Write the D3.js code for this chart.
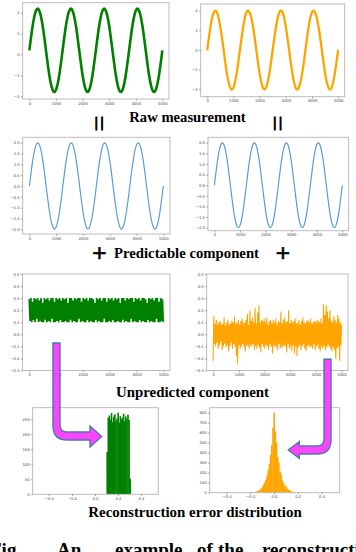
<!DOCTYPE html>
<html><head><meta charset="utf-8">
<script src="https://cdn.jsdelivr.net/npm/d3@7"></script>
<style>html,body{margin:0;padding:0;background:#fff;}svg{display:block}</style>
</head><body><svg id="c" width="356" height="552"></svg>
<script>
// ---------- data ----------
const sampleTimes = [0,125,250,375,500,625,750,875,1000,1125,1250,1375,1500,1625,1750,1875,2000,2125,2250,2375,2500,2625,2750,2875,3000,3125,3250,3375,3500,3625,3750,3875,4000,4125,4250,4375,4500,4625,4750,4875,5000];
const rawGreen = [0.2,1.38,2.1,2.1,1.38,0.2,-0.98,-1.7,-1.7,-0.98,0.2,1.38,2.1,2.1,1.38,0.2,-0.98,-1.7,-1.7,-0.98,0.2,1.38,2.1,2.1,1.38,0.2,-0.98,-1.7,-1.7,-0.98,0.2,1.38,2.1,2.1,1.38,0.2,-0.98,-1.7,-1.7,-0.98,0.2];
const rawOrange = [-0.02,1.2,1.92,1.9,1.17,0.01,-1.19,-1.91,-1.92,-1.17,0.02,1.19,1.93,1.89,1.18,-0.01,-1.2,-1.92,-1.9,-1.18,0.01,1.18,1.91,1.92,1.19,0.0,-1.17,-1.93,-1.91,-1.19,-0.01,1.2,1.92,1.9,1.18,0.02,-1.18,-1.9,-1.93,-1.17,0.0];
const predicted = [0,1.18,1.9,1.9,1.18,0,-1.18,-1.9,-1.9,-1.18,0,1.18,1.9,1.9,1.18,0,-1.18,-1.9,-1.9,-1.18,0,1.18,1.9,1.9,1.18,0,-1.18,-1.9,-1.9,-1.18,0,1.18,1.9,1.9,1.18,0,-1.18,-1.9,-1.9,-1.18,0];
const noiseGreen = [0.29,0.11,0.3,0.1,0.27,0.12,0.3,0.1,0.29,0.13,0.3,0.1,0.28,0.11,0.3,0.1,0.26,0.1,0.3,0.12,
0.29,0.1,0.3,0.11,0.28,0.1,0.3,0.13,0.3,0.1,0.27,0.1,0.3,0.11,0.29,0.1,0.3,0.12,0.28,0.1,
0.3,0.1,0.29,0.11,0.3,0.1,0.26,0.1,0.3,0.12,0.3,0.1,0.28,0.11,0.3,0.1,0.29,0.1,0.3,0.13,
0.3,0.1,0.27,0.11,0.3,0.1,0.29,0.1,0.3,0.12,0.28,0.1,0.3,0.11,0.3,0.1,0.29,0.1,0.26,0.12,
0.3,0.1,0.29,0.11,0.3,0.1,0.28,0.1,0.3,0.13,0.3,0.1,0.27,0.1,0.3,0.11,0.29,0.1,0.3,0.12,
0.28,0.1,0.3,0.1,0.29,0.11,0.3,0.1,0.26,0.1,0.3,0.12,0.3,0.1,0.28,0.11,0.3,0.1,0.29,0.1,
0.3,0.13,0.3,0.1,0.27,0.11,0.3,0.1,0.29,0.1,0.3,0.12,0.28,0.1,0.3,0.11,0.3,0.1,0.29,0.1,
0.26,0.12,0.3,0.1,0.29,0.11,0.3,0.1,0.28,0.1,0.3,0.13,0.3,0.1,0.27,0.1,0.3,0.11,0.29,0.1];
const noiseOrange = [-0.22,0.15,-0.08,0.09,-0.1,0.12,-0.07,0.08,-0.12,0.1,
-0.09,0.11,-0.06,0.08,-0.13,0.09,-0.1,0.14,-0.08,0.07,
-0.11,0.1,-0.09,0.12,-0.14,0.08,-0.1,0.09,-0.07,0.11,
-0.12,0.1,-0.08,0.15,-0.1,0.09,-0.18,0.1,-0.25,0.12,
-0.09,0.08,-0.12,0.11,-0.1,0.13,-0.08,0.09,-0.11,0.1,
-0.14,0.12,-0.09,0.17,-0.1,0.08,-0.12,0.2,-0.09,0.11,
-0.1,0.14,-0.08,0.1,-0.13,0.22,-0.1,0.09,-0.12,0.18,
-0.09,0.24,-0.11,0.1,-0.15,0.12,-0.08,0.11,-0.1,0.13,
-0.12,0.1,-0.09,0.14,-0.1,0.08,-0.13,0.11,-0.08,0.12,
-0.1,0.09,-0.16,0.12,-0.09,0.1,-0.11,0.13,-0.1,0.08,
-0.13,0.11,-0.08,0.1,-0.12,0.19,-0.1,0.09,-0.11,0.12,
-0.09,0.14,-0.1,0.1,-0.15,0.11,-0.08,0.2,-0.12,0.09,
-0.1,0.12,-0.14,0.1,-0.09,0.11,-0.16,0.13,-0.1,0.09,
-0.18,0.1,-0.11,0.12,-0.09,0.08,-0.13,0.11,-0.1,0.14,
-0.08,0.1,-0.12,0.09,-0.14,0.11,-0.1,0.12,-0.09,0.1,
-0.11,0.13,-0.1,0.09,-0.12,0.1,-0.08,0.11,-0.13,0.1,
-0.1,0.12,-0.09,0.11,-0.12,0.1,-0.14,0.13,-0.1,0.09,
-0.12,0.25,-0.1,0.16,-0.13,0.24,-0.11,0.19,-0.09,0.13,
-0.1,0.2,-0.12,0.11,-0.14,0.1,-0.11,0.15,-0.13,0.12,
-0.2,0.1,-0.12,0.16,-0.1,0.13,-0.22,0.1,-0.09,0.08];
const greenBinLeft = [0.0995,0.109,0.1185,0.128,0.1375,0.147,0.1565,0.166,0.1755,0.185,0.1945,0.204,0.2135,0.223,0.2325,0.242,0.2515,0.261,0.2705,0.28,0.2895,0.299];
const greenBinCount = [140,255,262,248,270,240,258,266,245,252,272,238,260,249,255,268,243,259,250,265,247,52];
const orangeBinCenter = [-0.2,-0.19,-0.18,-0.17,-0.16,-0.15,-0.14,-0.13,-0.12,-0.11,-0.1,-0.09,-0.08,-0.07,-0.06,-0.05,-0.04,-0.03,-0.02,-0.01,0,0.01,0.02,0.03,0.04,0.05,0.06,0.07,0.08,0.09,0.1,0.11,0.12,0.13,0.14,0.15,0.16,0.17,0.18,0.19,0.2];
const orangeBinCount = [1,2,4,5,8,12,15,22,30,42,55,80,100,130,170,230,290,380,480,650,800,610,500,360,300,210,180,120,95,70,60,40,32,25,18,10,9,6,3,3,2];
const timeTicks = [0,1000,2000,3000,4000,5000];
const rawTicks = [-2,-1,0,1,2];
const predTicks = [-2,-1.5,-1,-0.5,0,0.5,1,1.5,2];
const noiseTicks = [-0.3,-0.2,-0.1,0,0.1,0.2,0.3,0.4,0.5];
const errTicks = [-0.4,-0.2,0,0.2,0.4];
const greenHistTicks = [0,50,100,150,200,250];
const orangeHistTicks = [0,100,200,300,400,500,600,700,800];
const captionWords = ["Fig.","An","example","of","the","reconstruction"];

// ---------- drawing ----------
const svg = d3.select("#c");
const GREEN="#008000", ORANGE="#ffa500", BLUE="#5b9bd5";

function panel(box, xDom, yDom, xTicks, yTicks, xFmt, yFmt){
  const x = d3.scaleLinear().domain(xDom).range([box.x0, box.x1]);
  const y = d3.scaleLinear().domain(yDom).range([box.y1, box.y0]);
  const g = svg.append("g");
  const clipId = "clip"+Math.round(box.x0)+"_"+Math.round(box.y0);
  g.append("clipPath").attr("id",clipId).append("rect")
    .attr("x",box.x0).attr("y",box.y0).attr("width",box.x1-box.x0).attr("height",box.y1-box.y0);
  const plot = g.append("g").attr("clip-path","url(#"+clipId+")");
  g.append("rect").attr("x",box.x0).attr("y",box.y0).attr("width",box.x1-box.x0).attr("height",box.y1-box.y0)
    .attr("fill","none").attr("stroke","#b5b5b5").attr("stroke-width",0.9);
  const ax = g.append("g").attr("transform",`translate(0,${box.y1})`)
    .call(d3.axisBottom(x).tickValues(xTicks).tickFormat(d3.format(xFmt)).tickSize(1.8).tickPadding(1.2));
  const ay = g.append("g").attr("transform",`translate(${box.x0},0)`)
    .call(d3.axisLeft(y).tickValues(yTicks).tickFormat(d3.format(yFmt)).tickSize(1.8).tickPadding(1.2));
  [ax,ay].forEach(a=>{
    a.select(".domain").remove();
    a.selectAll("line").attr("stroke","#555").attr("stroke-width",0.5);
    a.selectAll("text").attr("font-family","DejaVu Sans").attr("font-size",3.8).attr("fill","#444");
  });
  return {x,y,plot};
}

const timeDom=[-250,5250];
{
  const p = panel({x0:22.7,x1:169,y0:2.7,y1:99}, timeDom, [-2.13,2.48], timeTicks, rawTicks, "d","d");
  p.plot.append("path").datum(sampleTimes.map((t,i)=>[t,rawGreen[i]]))
    .attr("d", d3.line().x(d=>p.x(d[0])).y(d=>p.y(d[1])).curve(d3.curveNatural))
    .attr("fill","none").attr("stroke",GREEN).attr("stroke-width",2.6);
}
{
  const p = panel({x0:200.7,x1:344.7,y0:4,y1:96.7}, timeDom, [-2.38,2.34], timeTicks, rawTicks, "d","d");
  p.plot.append("path").datum(sampleTimes.map((t,i)=>[t,rawOrange[i]]))
    .attr("d", d3.line().x(d=>p.x(d[0])).y(d=>p.y(d[1])).curve(d3.curveNatural))
    .attr("fill","none").attr("stroke",ORANGE).attr("stroke-width",2.3);
}
{
  const p = panel({x0:22.7,x1:170,y0:137.3,y1:234}, timeDom, [-2.22,2.25], timeTicks, predTicks, "d",".1f");
  p.plot.append("path").datum(sampleTimes.map((t,i)=>[t,predicted[i]]))
    .attr("d", d3.line().x(d=>p.x(d[0])).y(d=>p.y(d[1])).curve(d3.curveNatural))
    .attr("fill","none").attr("stroke",BLUE).attr("stroke-width",1.2);
}
{
  const p = panel({x0:208,x1:348.7,y0:137.3,y1:230.7}, timeDom, [-2.14,2.254], timeTicks, predTicks, "d",".1f");
  p.plot.append("path").datum(sampleTimes.map((t,i)=>[t,predicted[i]]))
    .attr("d", d3.line().x(d=>p.x(d[0])).y(d=>p.y(d[1])).curve(d3.curveNatural))
    .attr("fill","none").attr("stroke",BLUE).attr("stroke-width",1.2);
}
{
  const p = panel({x0:22.5,x1:170,y0:274,y1:370.5}, timeDom, [-0.3,0.5], timeTicks, noiseTicks, "d",".1f");
  const n = noiseGreen.length;
  p.plot.append("path").datum(noiseGreen.map((v,i)=>[i*5000/(n-1),v]))
    .attr("d", d3.line().x(d=>p.x(d[0])).y(d=>p.y(d[1])))
    .attr("fill","none").attr("stroke",GREEN).attr("stroke-width",1.7);
}
{
  const p = panel({x0:206.7,x1:348,y0:274,y1:370.5}, timeDom, [-0.3,0.5], timeTicks, noiseTicks, "d",".1f");
  const n = noiseOrange.length;
  p.plot.append("path").datum(noiseOrange.map((v,i)=>[i*5000/(n-1),v]))
    .attr("d", d3.line().x(d=>p.x(d[0])).y(d=>p.y(d[1])))
    .attr("fill","none").attr("stroke",ORANGE).attr("stroke-width",1.1);
}
{
  const p = panel({x0:32.7,x1:158.3,y0:407.7,y1:494.3}, [-0.54,0.55], [0,288], errTicks, greenHistTicks, ".1f","d");
  p.plot.selectAll("rect").data(greenBinLeft).join("rect")
    .attr("x",d=>p.x(d)).attr("width",d=>p.x(d+0.0095)-p.x(d)+0.5)
    .attr("y",(d,i)=>p.y(greenBinCount[i])).attr("height",(d,i)=>p.y(0)-p.y(greenBinCount[i]))
    .attr("fill",GREEN);
}
{
  const p = panel({x0:209.7,x1:339.7,y0:407.7,y1:492.7}, [-0.541,0.553], [0,850], errTicks, orangeHistTicks, ".1f","d");
  p.plot.selectAll("rect").data(orangeBinCenter).join("rect")
    .attr("x",d=>p.x(d-0.005)).attr("width",d=>p.x(d+0.005)-p.x(d-0.005)+0.4)
    .attr("y",(d,i)=>p.y(orangeBinCount[i])).attr("height",(d,i)=>p.y(0)-p.y(orangeBinCount[i]))
    .attr("fill",ORANGE);
}

// Arrows
svg.append("path")
  .attr("d","M53,343 L60,343 L60,425 Q60,432 67,432 L90,432 L90,426 L101.7,436.5 L90,447 L90,440 L67,440 Q53,440 53,426 Z")
  .attr("fill","#ff44ff").attr("stroke","#4a78a8").attr("stroke-width",1.4);
svg.append("path")
  .attr("d","M331,359.3 L324,359.3 L324,439 Q324,446 317,446 L299.3,446 L299.3,441.7 L288.3,450 L299.3,458.3 L299.3,454 L317,454 Q331,454 331,440 Z")
  .attr("fill","#ff44ff").attr("stroke","#4a78a8").attr("stroke-width",1.4);

// Labels
const serif = "Liberation Serif";
function label(txt, x, y, len, size){
  svg.append("text").attr("x",x).attr("y",y).text(txt)
    .attr("font-family",serif).attr("font-weight","bold").attr("font-size",size)
    .attr("textLength",len).attr("lengthAdjust","spacingAndGlyphs").attr("fill","#000");
}
label("Raw measurement",129.3,122.3,116.4,14);
label("Predictable component",114,258.3,145,14);
label("Unpredicted component",116,396.7,153,14.5);
label("Reconstruction error distribution",88.3,516.7,213.4,14);
function sym(txt,x,y,size,ls,sw){
  svg.append("text").attr("x",x).attr("y",y).text(txt).attr("text-anchor","middle")
    .attr("font-family",serif).attr("font-weight","bold").attr("font-size",size)
    .attr("letter-spacing",ls).attr("fill","#000").attr("stroke","#000").attr("stroke-width",sw);
}
sym("||",100.5,126.5,14,2.6,0.9);
sym("||",279,126.5,14,2.6,0.9);
sym("+",99.3,262,26,0,0.5);
sym("+",283,262,26,0,0.5);
// clipped caption line at the very bottom edge
const capX = [-10,57,115,197,218,262];
captionWords.forEach((w,i)=>{
  svg.append("text").attr("x",capX[i]).attr("y",556).text(w)
    .attr("font-family",serif).attr("font-weight","bold").attr("font-size",19).attr("fill","#000");
});
</script></body></html>
